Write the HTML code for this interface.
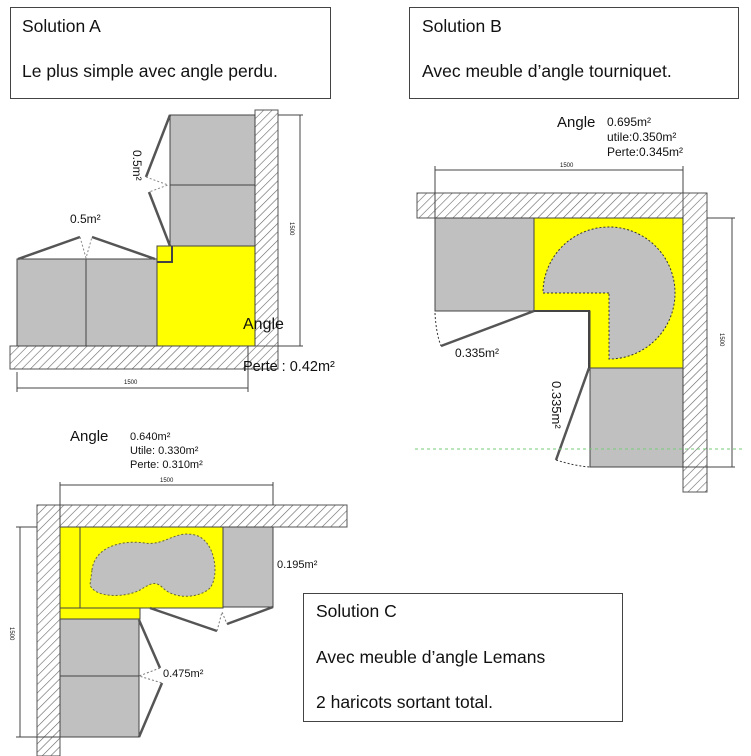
<!DOCTYPE html>
<html><head><meta charset="utf-8"><style>
html,body{margin:0;padding:0;background:#fff;}
svg{display:block}
.t{font-family:"Liberation Sans",sans-serif;fill:#111}
</style></head><body>
<svg width="751" height="756" viewBox="0 0 751 756" xmlns="http://www.w3.org/2000/svg">
<defs>
<pattern id="h" width="6" height="6" patternUnits="userSpaceOnUse" patternTransform="rotate(45)">
<rect width="6" height="6" fill="#fff"/><line x1="0" y1="0" x2="0" y2="6" stroke="#666" stroke-width="1.2"/>
</pattern>
</defs>
<rect x="10.5" y="7.5" width="320" height="91" fill="#fff" stroke="#444"/>
<text class="t" x="22" y="32" font-size="17.5">Solution A</text>
<text class="t" x="22" y="77" font-size="17.5">Le plus simple avec angle perdu.</text>
<rect x="409.5" y="7.5" width="329" height="91" fill="#fff" stroke="#444"/>
<text class="t" x="422" y="32" font-size="17.5">Solution B</text>
<text class="t" x="422" y="77" font-size="17.5">Avec meuble d’angle tourniquet.</text>

<!-- Solution A -->
<rect x="255" y="110" width="23" height="236" fill="url(#h)" stroke="#555"/>
<rect x="10" y="346" width="268" height="23" fill="url(#h)" stroke="#555"/>
<rect x="170" y="115" width="85" height="131" fill="#c0c0c0" stroke="#444"/>
<line x1="170" y1="185" x2="255" y2="185" stroke="#444"/>
<rect x="157" y="246" width="98" height="100" fill="#ffff00" stroke="#444"/>
<rect x="17" y="259" width="140" height="87" fill="#c0c0c0" stroke="#444"/>
<line x1="86" y1="259" x2="86" y2="346" stroke="#444"/>
<polyline points="157,262 172,262 172,246" fill="none" stroke="#444" stroke-width="2"/>
<g stroke="#555" stroke-width="2.5">
<line x1="18" y1="259" x2="80" y2="237"/><line x1="155" y1="259" x2="92" y2="237"/>
<line x1="170" y1="115" x2="146" y2="177"/><line x1="170" y1="246" x2="149" y2="192"/>
</g>
<g stroke="#888" stroke-dasharray="2,2" fill="none"><path d="M80,237 L86,258 L92,237"/><path d="M146,177 L168,185 L149,192"/></g>
<text class="t" x="70" y="223" font-size="12">0.5m²</text>
<text class="t" font-size="12" transform="translate(133,150) rotate(90)">0.5m²</text>
<g stroke="#444" fill="none"><line x1="300" y1="115" x2="300" y2="346"/><line x1="278" y1="115" x2="303" y2="115"/><line x1="278" y1="346" x2="303" y2="346"/>
<line x1="17" y1="388" x2="248" y2="388"/><line x1="17" y1="372" x2="17" y2="392"/><line x1="248" y1="346" x2="248" y2="392"/></g>
<text class="t" font-size="6" transform="translate(290,222) rotate(90)">1500</text>
<text class="t" x="124" y="384" font-size="6">1500</text>
<text class="t" x="243" y="329" font-size="16">Angle</text>
<text class="t" x="243" y="371" font-size="14.5">Perte : 0.42m²</text>

<!-- Solution B -->
<rect x="417" y="193" width="290" height="25" fill="url(#h)" stroke="#555"/>
<rect x="683" y="193" width="24" height="299" fill="url(#h)" stroke="#555"/>
<rect x="435" y="218" width="99" height="93" fill="#c0c0c0" stroke="#444"/>
<path d="M534,218 H683 V368 H590 V311 H534 Z" fill="#ffff00" stroke="#444"/>
<rect x="590" y="368" width="93" height="99" fill="#c0c0c0" stroke="#444"/>
<path d="M609,293 L543,293 A66,66 0 1,1 609,359 Z" fill="#c0c0c0" stroke="#333" stroke-dasharray="2,2"/>
<polyline points="534,311 589,311 589,368" fill="none" stroke="#444" stroke-width="2"/>
<g stroke="#444" fill="none"><line x1="435" y1="170" x2="683" y2="170"/><line x1="435" y1="166" x2="435" y2="218"/><line x1="683" y1="166" x2="683" y2="193"/>
<line x1="732" y1="218" x2="732" y2="467"/><line x1="707" y1="218" x2="735" y2="218"/><line x1="683" y1="467" x2="735" y2="467"/></g>
<text class="t" x="560" y="167" font-size="6">1500</text>
<text class="t" font-size="6" transform="translate(720,333) rotate(90)">1500</text>
<g stroke="#555" stroke-width="2.5"><line x1="534" y1="311" x2="441" y2="346"/><line x1="589" y1="368" x2="556" y2="460"/></g>
<g stroke="#333" stroke-dasharray="2,2" fill="none"><path d="M435,313 Q436,333 441,346"/><path d="M556,460 Q575,466 590,467"/></g>
<line x1="415" y1="449" x2="745" y2="449" stroke="#7c7" stroke-dasharray="3,3"/>
<text class="t" x="455" y="357" font-size="12">0.335m²</text>
<text class="t" font-size="13" transform="translate(552,381) rotate(90)">0.335m²</text>
<text class="t" x="557" y="127" font-size="15">Angle</text>
<text class="t" x="607" y="126" font-size="12">0.695m²</text>
<text class="t" x="607" y="141" font-size="12">utile:0.350m²</text>
<text class="t" x="607" y="156" font-size="12">Perte:0.345m²</text>

<!-- Solution C -->
<rect x="37" y="505" width="310" height="22" fill="url(#h)" stroke="#555"/>
<rect x="37" y="505" width="23" height="251" fill="url(#h)" stroke="#555"/>
<rect x="60" y="527" width="163" height="81" fill="#ffff00" stroke="#444"/>
<line x1="80" y1="527" x2="80" y2="608" stroke="#444"/>
<rect x="60" y="608" width="80" height="11" fill="#ffff00" stroke="#444"/>
<rect x="223" y="527" width="50" height="80" fill="#c0c0c0" stroke="#444"/>
<rect x="60" y="619" width="79" height="118" fill="#c0c0c0" stroke="#444"/>
<line x1="60" y1="676" x2="139" y2="676" stroke="#444"/>
<path d="M92,570 C95,545 125,540 145,543 C165,546 175,530 195,535 C215,540 220,575 210,588 C200,598 175,600 163,588 C155,580 150,584 140,590 C125,598 95,598 90,585 Z" fill="#c0c0c0" stroke="#663" stroke-dasharray="2,2"/>
<g stroke="#444" fill="none"><line x1="60" y1="485" x2="273" y2="485"/><line x1="60" y1="482" x2="60" y2="527"/><line x1="273" y1="482" x2="273" y2="505"/>
<line x1="20" y1="527" x2="20" y2="737"/><line x1="16" y1="527" x2="37" y2="527"/><line x1="16" y1="737" x2="60" y2="737"/></g>
<text class="t" x="160" y="482" font-size="6">1500</text>
<text class="t" font-size="6" transform="translate(10,627) rotate(90)">1500</text>
<g stroke="#555" stroke-width="2.5"><line x1="150" y1="608" x2="217" y2="631"/><line x1="273" y1="607" x2="227" y2="624"/>
<line x1="139" y1="620" x2="160" y2="668"/><line x1="139" y1="737" x2="162" y2="683"/></g>
<g stroke="#777" stroke-dasharray="2,2" fill="none"><path d="M217,631 L222,612 L227,624"/><path d="M160,668 L139,676 L162,683"/></g>
<text class="t" x="277" y="568" font-size="11">0.195m²</text>
<text class="t" x="163" y="677" font-size="11">0.475m²</text>
<text class="t" x="70" y="441" font-size="15">Angle</text>
<text class="t" x="130" y="440" font-size="11">0.640m²</text>
<text class="t" x="130" y="454" font-size="11">Utile: 0.330m²</text>
<text class="t" x="130" y="468" font-size="11">Perte: 0.310m²</text>

<rect x="303.5" y="593.5" width="319" height="128" fill="#fff" stroke="#444"/>
<text class="t" x="316" y="617" font-size="17.5">Solution C</text>
<text class="t" x="316" y="663" font-size="17.5">Avec meuble d’angle Lemans</text>
<text class="t" x="316" y="708" font-size="17.5">2 haricots sortant total.</text>
</svg>
</body></html>
